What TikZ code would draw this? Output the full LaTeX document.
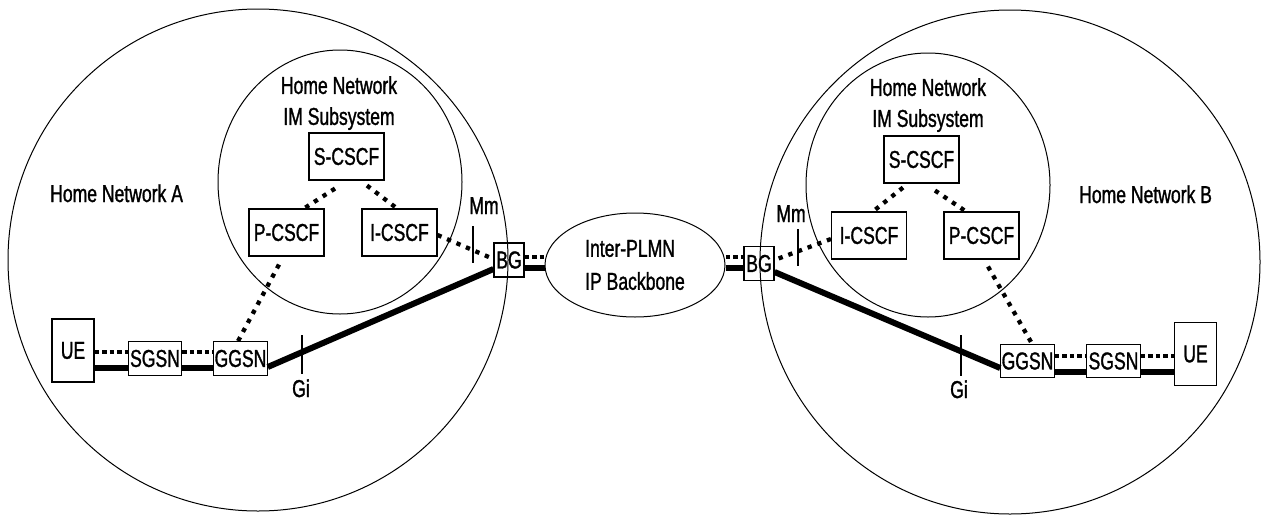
\documentclass[tikz,border=0pt]{standalone}
\usepackage{fontspec}
\setmainfont{Liberation Sans}[FakeStretch=0.72, FakeBold=1.2]
\usetikzlibrary{calc,shapes.geometric}
\begin{document}
\begin{tikzpicture}[x=1pt, y=-1pt,
  font=\fontsize{24.4pt}{31pt}\selectfont,
  netline/.style={line width=1pt},
  box/.style={draw, line width=1.1pt, inner sep=0pt, minimum width=75pt, minimum height=47pt},
  gsn/.style={box, minimum width=53.5pt, minimum height=33.5pt},
  uebox/.style={box, minimum width=42pt, minimum height=63pt},
  bgbox/.style={box, minimum width=30pt, minimum height=34pt},
  lbl/.style={inner sep=0pt, anchor=base},
  bearer/.style={line width=6pt},
  sig/.style={line width=4.5pt, dash pattern=on 4.5pt off 3pt},
  sigd/.style={line width=4.3pt, dash pattern=on 4.3pt off 6pt},
  tick/.style={line width=1.1pt}]
\useasboundingbox (0,0) rectangle (1264,517);

% network areas
\draw[netline] (258,260) ellipse [x radius=250pt, y radius=251pt];
\draw[netline] (1010,262) ellipse [x radius=250pt, y radius=252pt];
\draw[netline] (340,182) ellipse [x radius=122pt, y radius=132pt];
\draw[netline] (928,185) ellipse [x radius=122pt, y radius=132pt];

% labels
\node[lbl, anchor=base west] (hna) at (50,202) {Home Network A};
\node[lbl, anchor=base west] (hnb) at (1079,203) {Home Network B};
\node[inner sep=0pt, anchor=north, align=center] (imsA) at (339,76) {Home Network\\IM Subsystem};
\node[inner sep=0pt, anchor=north, align=center] (imsB) at (928,78) {Home Network\\IM Subsystem};

% backbone
\node[draw, ellipse, line width=1pt, inner sep=0pt, minimum width=180pt, minimum height=104pt,
      align=left, font=\fontsize{24.4pt}{33pt}\selectfont] (bb) at (635,265) {Inter-PLMN\\IP Backbone};

% network A nodes
\node[uebox] (ueA) at (73,350.5) {UE};
\node[gsn] (sgsnA) at (155,358.5) {SGSN};
\node[gsn] (ggsnA) at (240.5,358.5) {GGSN};
\node[box] (sA) at (346.5,156.5) {S-CSCF};
\node[box] (pA) at (286.5,232.5) {P-CSCF};
\node[box] (iA) at (399.5,232.5) {I-CSCF};
\node[bgbox] (bgA) at (509,260) {BG};

% network B nodes
\node[bgbox] (bgB) at (759,263.5) {BG};
\node[box] (sB) at (921.5,159.5) {S-CSCF};
\node[box] (iB) at (869,235.5) {I-CSCF};
\node[box] (pB) at (981.5,235.5) {P-CSCF};
\node[gsn] (ggsnB) at (1027.5,361) {GGSN};
\node[gsn] (sgsnB) at (1113.5,361) {SGSN};
\node[uebox] (ueB) at (1195.5,354) {UE};

% ---- A side connectors
\coordinate (a1) at ([yshift=6.5pt]sgsnA.west);
\coordinate (a2) at ([yshift=-9.5pt]sgsnA.west);
\draw[sig] (ueA.east |- a1) -- (a1);
\draw[bearer] (ueA.east |- a2) -- (a2);
\draw[sig] ([yshift=6.5pt]sgsnA.east) -- ([yshift=6.5pt]ggsnA.west);
\draw[bearer] ([yshift=-9.5pt]sgsnA.east) -- ([yshift=-9.5pt]ggsnA.west);
\draw[bearer] ([yshift=-8.5pt]ggsnA.east) -- ([yshift=-9pt]bgA.west);
\coordinate (a3) at ([yshift=3pt]bgA.east);
\coordinate (a4) at ([yshift=-8pt]bgA.east);
\draw[sig] (a3) -- (bb.west |- a3);
\draw[bearer] (a4) -- (bb.west |- a4);
\draw[sigd] ($(sA.south)+(-11.5,8)$) -- ($(pA.north)+(17.5,0)$);
\draw[sigd] ($(sA.south)+(20.5,5)$) -- ($(iA.north)+(-2.5,0)$);
\draw[sigd] ($(pA.south)+(-7.5,8)$) -- ($(ggsnA.north)+(-2.5,0)$);
\draw[sigd] ($(iA.east)+(0,2.5)$) -- ($(bgA.west)+(0,-1)$);

% ---- B side connectors
\coordinate (b1) at ([yshift=6.5pt]bgB.west);
\coordinate (b2) at ([yshift=-4.5pt]bgB.west);
\draw[sig] (bb.east |- b1) -- (b1);
\draw[bearer] (bb.east |- b2) -- (b2);
\draw[bearer] ([yshift=-8.5pt]bgB.east) -- ([yshift=-7pt]ggsnB.west);
\draw[sig] ([yshift=5pt]ggsnB.east) -- ([yshift=5pt]sgsnB.west);
\draw[bearer] ([yshift=-11pt]ggsnB.east) -- ([yshift=-11pt]sgsnB.west);
\coordinate (b3) at ([yshift=5pt]sgsnB.east);
\coordinate (b4) at ([yshift=-11pt]sgsnB.east);
\draw[sig] (b3) -- (ueB.west |- b3);
\draw[bearer] (b4) -- (ueB.west |- b4);
\draw[sigd] ($(sB.south)+(-18.5,4)$) -- ($(iB.north)+(4,0)$);
\draw[sigd] ($(sB.south)+(13.5,7)$) -- ($(pB.north)+(-15.5,0)$);
\draw[sigd] ($(pB.south)+(6.5,7)$) -- ($(ggsnB.north)+(4.5,0)$);
\draw[sigd] ($(iB.west)+(0,3.5)$) -- ($(bgB.east)+(0,-3.5)$);

% reference points
\coordinate (mmAt) at (473,226); \coordinate (mmAb) at (473,263);
\coordinate (giAt) at (302,335); \coordinate (giAb) at (302,374);
\coordinate (mmBt) at (798,229); \coordinate (mmBb) at (798,266);
\coordinate (giBt) at (961,335); \coordinate (giBb) at (961,376);
\draw[tick] (mmAt) -- (mmAb);
\draw[tick] (giAt) -- (giAb);
\draw[tick] (mmBt) -- (mmBb);
\draw[tick] (giBt) -- (giBb);
\node[lbl] (mmA) at (484,214) {Mm};
\node[lbl] (giA) at (301,397) {Gi};
\node[lbl] (mmB) at (791,222) {Mm};
\node[lbl] (giB) at (959,398) {Gi};
\end{tikzpicture}
\end{document}
